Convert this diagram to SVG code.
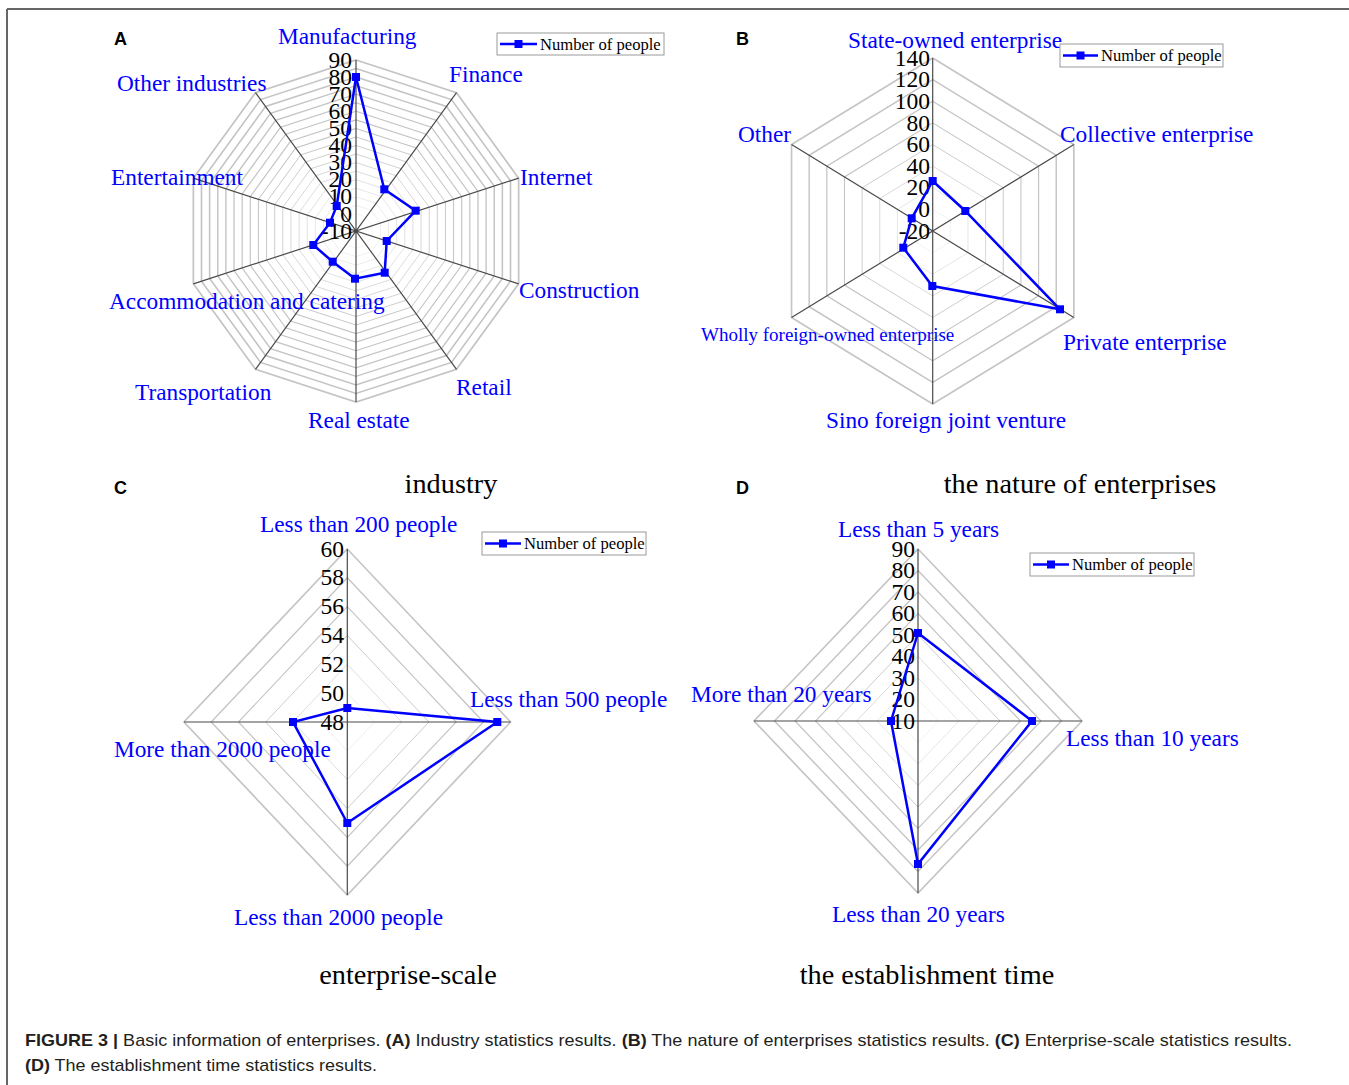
<svg xmlns="http://www.w3.org/2000/svg" xmlns:xlink="http://www.w3.org/1999/xlink" width="1349" height="1085" viewBox="0 0 1349 1085">
<style>
.ring{fill:none;stroke:#c4c4c4;stroke-width:1;vector-effect:non-scaling-stroke}
.axis{fill:none;stroke:#4a4a4a;stroke-width:1.2;vector-effect:non-scaling-stroke}
.data{fill:none;stroke:#0000ff;stroke-width:2.5;stroke-linejoin:miter}
.mk{fill:#0000ff}
.tick{font-family:"Liberation Serif",serif;font-size:23.5px;fill:#000;text-anchor:end}
.cat{font-family:"Liberation Serif",serif;font-size:23.3px;fill:#0000ff}
.title{font-family:"Liberation Serif",serif;font-size:28.3px;fill:#000;text-anchor:middle}
.leg{fill:#fff;stroke:#9a9a9a;stroke-width:1}
.legt{font-family:"Liberation Serif",serif;font-size:16.6px;fill:#000}
.legl{stroke:#0000ff;stroke-width:2.5}
.panel{font-family:"Liberation Sans",Arial,sans-serif;font-size:18px;font-weight:bold;fill:#000}
.cap{font-family:"Liberation Sans",Arial,sans-serif;font-size:17px;fill:#231f20}
</style>
<defs>
<polygon id="deca" points="0,-100 58.78,-80.9 95.11,-30.9 95.11,30.9 58.78,80.9 0,100 -58.78,80.9 -95.11,30.9 -95.11,-30.9 -58.78,-80.9"/>
<polygon id="hexa" points="0,-100 86.6,-50 86.6,50 0,100 -86.6,50 -86.6,-50"/>
<polygon id="diam" points="0,-100 100,0 0,100 -100,0"/>
<rect id="sq" x="-4" y="-4" width="8" height="8"/>
</defs>

<g id="frame">
<line x1="7" y1="9" x2="1349" y2="9" stroke="#666" stroke-width="2"/>
<line x1="7" y1="9" x2="7" y2="1085" stroke="#666" stroke-width="2"/>
</g>

<!-- Panel A -->
<g id="panelA">
<text class="panel" x="114" y="45">A</text>
<g transform="translate(356,231)">
<use href="#deca" class="ring" transform="scale(0.0855)"/>
<use href="#deca" class="ring" transform="scale(0.171)"/>
<use href="#deca" class="ring" transform="scale(0.2565)"/>
<use href="#deca" class="ring" transform="scale(0.342)"/>
<use href="#deca" class="ring" transform="scale(0.4275)"/>
<use href="#deca" class="ring" transform="scale(0.513)"/>
<use href="#deca" class="ring" transform="scale(0.5985)"/>
<use href="#deca" class="ring" transform="scale(0.684)"/>
<use href="#deca" class="ring" transform="scale(0.7695)"/>
<use href="#deca" class="ring" transform="scale(0.855)"/>
<use href="#deca" class="ring" transform="scale(0.9405)"/>
<use href="#deca" class="ring" transform="scale(1.026)"/>
<use href="#deca" class="ring" transform="scale(1.1115)"/>
<use href="#deca" class="ring" transform="scale(1.197)"/>
<use href="#deca" class="ring" transform="scale(1.2825)"/>
<use href="#deca" class="ring" transform="scale(1.368)"/>
<use href="#deca" class="ring" transform="scale(1.4535)"/>
<use href="#deca" class="ring" transform="scale(1.539)"/>
<use href="#deca" class="ring" transform="scale(1.6245)"/>
<use href="#deca" class="ring" transform="scale(1.71)"/>
<path class="axis" transform="scale(1.71)" d="M0,-100L0,100M58.78,-80.9L-58.78,80.9M95.11,-30.9L-95.11,30.9M95.11,30.9L-95.11,-30.9M58.78,80.9L-58.78,-80.9"/>
</g>
<g>
<text class="tick" x="352" y="67.6">90</text>
<text class="tick" x="352" y="84.7">80</text>
<text class="tick" x="352" y="101.8">70</text>
<text class="tick" x="352" y="118.9">60</text>
<text class="tick" x="352" y="136">50</text>
<text class="tick" x="352" y="153.1">40</text>
<text class="tick" x="352" y="170.2">30</text>
<text class="tick" x="352" y="187.3">20</text>
<text class="tick" x="352" y="204.4">10</text>
<text class="tick" x="352" y="221.5">0</text>
<text class="tick" x="352" y="238.6">-10</text>
</g>
<polygon class="data" points="356,77 384.3,189.3 415.7,210.7 386.7,241 384.7,272.7 355,278.7 332.7,261.7 313.3,245 330,222.7 336.7,206"/>
<g>
<use href="#sq" class="mk" x="356" y="77"/>
<use href="#sq" class="mk" x="384.3" y="189.3"/>
<use href="#sq" class="mk" x="415.7" y="210.7"/>
<use href="#sq" class="mk" x="386.7" y="241"/>
<use href="#sq" class="mk" x="384.7" y="272.7"/>
<use href="#sq" class="mk" x="355" y="278.7"/>
<use href="#sq" class="mk" x="332.7" y="261.7"/>
<use href="#sq" class="mk" x="313.3" y="245"/>
<use href="#sq" class="mk" x="330" y="222.7"/>
<use href="#sq" class="mk" x="336.7" y="206"/>
</g>
<text class="cat" x="278" y="44">Manufacturing</text>
<text class="cat" x="449" y="82">Finance</text>
<text class="cat" x="520" y="185">Internet</text>
<text class="cat" x="519" y="298">Construction</text>
<text class="cat" x="456" y="395">Retail</text>
<text class="cat" x="308" y="428">Real estate</text>
<text class="cat" x="135" y="400">Transportation</text>
<text class="cat" x="109" y="309">Accommodation and catering</text>
<text class="cat" x="111" y="185">Entertainment</text>
<text class="cat" x="117" y="91">Other industries</text>
<g>
<rect class="leg" x="497" y="33" width="167" height="22"/>
<line class="legl" x1="500" y1="44" x2="537" y2="44"/>
<use href="#sq" class="mk" x="518.5" y="44"/>
<text class="legt" x="540" y="50">Number of people</text>
</g>
<text class="title" x="451" y="493">industry</text>
</g>

<!-- Panel B -->
<g id="panelB">
<text class="panel" x="736" y="45">B</text>
<g transform="translate(932.7,231)">
<use href="#hexa" class="ring" transform="scale(0.2038,0.2163)"/>
<use href="#hexa" class="ring" transform="scale(0.4075,0.4325)"/>
<use href="#hexa" class="ring" transform="scale(0.6113,0.6488)"/>
<use href="#hexa" class="ring" transform="scale(0.815,0.865)"/>
<use href="#hexa" class="ring" transform="scale(1.0188,1.0813)"/>
<use href="#hexa" class="ring" transform="scale(1.2225,1.2975)"/>
<use href="#hexa" class="ring" transform="scale(1.4263,1.5138)"/>
<use href="#hexa" class="ring" transform="scale(1.63,1.73)"/>
<path class="axis" transform="scale(1.63,1.73)" d="M0,-100L0,100M86.6,-50L-86.6,50M86.6,50L-86.6,-50"/>
</g>
<g>
<text class="tick" x="930" y="65.6">140</text>
<text class="tick" x="930" y="87.2">120</text>
<text class="tick" x="930" y="108.9">100</text>
<text class="tick" x="930" y="130.5">80</text>
<text class="tick" x="930" y="152.1">60</text>
<text class="tick" x="930" y="173.7">40</text>
<text class="tick" x="930" y="195.4">20</text>
<text class="tick" x="930" y="217">0</text>
<text class="tick" x="930" y="238.6">-20</text>
</g>
<polygon class="data" points="932.7,181 965.3,211 1060,309.3 932.3,286 903.3,247.7 911.7,218.3"/>
<g>
<use href="#sq" class="mk" x="932.7" y="181"/>
<use href="#sq" class="mk" x="965.3" y="211"/>
<use href="#sq" class="mk" x="1060" y="309.3"/>
<use href="#sq" class="mk" x="932.3" y="286"/>
<use href="#sq" class="mk" x="903.3" y="247.7"/>
<use href="#sq" class="mk" x="911.7" y="218.3"/>
</g>
<text class="cat" x="848" y="48">State-owned enterprise</text>
<text class="cat" x="1060" y="142">Collective enterprise</text>
<text class="cat" x="1063" y="350">Private enterprise</text>
<text class="cat" x="826" y="428">Sino foreign joint venture</text>
<text class="cat" x="701" y="341" style="font-size:19px">Wholly foreign-owned enterprise</text>
<text class="cat" x="738" y="142">Other</text>
<g>
<rect class="leg" x="1060" y="44" width="163" height="23"/>
<line class="legl" x1="1063" y1="55.5" x2="1098" y2="55.5"/>
<use href="#sq" class="mk" x="1080.5" y="55.5"/>
<text class="legt" x="1101" y="61">Number of people</text>
</g>
<text class="title" x="1080" y="493">the nature of enterprises</text>
</g>

<!-- Panel C -->
<g id="panelC">
<text class="panel" x="114" y="494">C</text>
<g transform="translate(347.3,722)">
<use href="#diam" class="ring" transform="scale(0.2722,0.2883)"/>
<use href="#diam" class="ring" transform="scale(0.5443,0.5767)"/>
<use href="#diam" class="ring" transform="scale(0.8165,0.865)"/>
<use href="#diam" class="ring" transform="scale(1.0887,1.1533)"/>
<use href="#diam" class="ring" transform="scale(1.3608,1.4417)"/>
<use href="#diam" class="ring" transform="scale(1.633,1.73)"/>
<path class="axis" transform="scale(1.633,1.73)" d="M0,-100L0,100M-100,0L100,0"/>
</g>
<g>
<text class="tick" x="344" y="556.6">60</text>
<text class="tick" x="344" y="585.4">58</text>
<text class="tick" x="344" y="614.3">56</text>
<text class="tick" x="344" y="643.1">54</text>
<text class="tick" x="344" y="671.9">52</text>
<text class="tick" x="344" y="700.8">50</text>
<text class="tick" x="344" y="729.6">48</text>
</g>
<polygon class="data" points="347.3,708 497.3,722 347.3,823 293,722"/>
<g>
<use href="#sq" class="mk" x="347.3" y="708"/>
<use href="#sq" class="mk" x="497.3" y="722"/>
<use href="#sq" class="mk" x="347.3" y="823"/>
<use href="#sq" class="mk" x="293" y="722"/>
</g>
<text class="cat" x="260" y="532">Less than 200 people</text>
<text class="cat" x="470" y="707">Less than 500 people</text>
<text class="cat" x="234" y="925">Less than 2000 people</text>
<text class="cat" x="114" y="757">More than 2000 people</text>
<g>
<rect class="leg" x="482" y="532" width="164" height="23"/>
<line class="legl" x1="485" y1="543.5" x2="521" y2="543.5"/>
<use href="#sq" class="mk" x="503" y="543.5"/>
<text class="legt" x="524" y="549">Number of people</text>
</g>
<text class="title" x="408" y="984">enterprise-scale</text>
</g>

<!-- Panel D -->
<g id="panelD">
<text class="panel" x="736" y="494">D</text>
<g transform="translate(918,721)">
<use href="#diam" class="ring" transform="scale(0.205,0.215)"/>
<use href="#diam" class="ring" transform="scale(0.41,0.43)"/>
<use href="#diam" class="ring" transform="scale(0.615,0.645)"/>
<use href="#diam" class="ring" transform="scale(0.82,0.86)"/>
<use href="#diam" class="ring" transform="scale(1.025,1.075)"/>
<use href="#diam" class="ring" transform="scale(1.23,1.29)"/>
<use href="#diam" class="ring" transform="scale(1.435,1.505)"/>
<use href="#diam" class="ring" transform="scale(1.64,1.72)"/>
<path class="axis" transform="scale(1.64,1.72)" d="M0,-100L0,100M-100,0L100,0"/>
</g>
<g>
<text class="tick" x="915" y="556.6">90</text>
<text class="tick" x="915" y="578.1">80</text>
<text class="tick" x="915" y="599.6">70</text>
<text class="tick" x="915" y="621.1">60</text>
<text class="tick" x="915" y="642.6">50</text>
<text class="tick" x="915" y="664.1">40</text>
<text class="tick" x="915" y="685.6">30</text>
<text class="tick" x="915" y="707.1">20</text>
<text class="tick" x="915" y="728.6">10</text>
</g>
<polygon class="data" points="918,633 1032,721 918,864 891,721"/>
<g>
<use href="#sq" class="mk" x="918" y="633"/>
<use href="#sq" class="mk" x="1032" y="721"/>
<use href="#sq" class="mk" x="918" y="864"/>
<use href="#sq" class="mk" x="891" y="721"/>
</g>
<text class="cat" x="838" y="537">Less than 5 years</text>
<text class="cat" x="1066" y="746">Less than 10 years</text>
<text class="cat" x="832" y="922">Less than 20 years</text>
<text class="cat" x="691" y="702">More than 20 years</text>
<g>
<rect class="leg" x="1030" y="553" width="164" height="23"/>
<line class="legl" x1="1033" y1="564.5" x2="1069" y2="564.5"/>
<use href="#sq" class="mk" x="1051" y="564.5"/>
<text class="legt" x="1072" y="570">Number of people</text>
</g>
<text class="title" x="927" y="984">the establishment time</text>
</g>

<g id="caption">
<text class="cap" x="25" y="1046" textLength="1267" lengthAdjust="spacingAndGlyphs"><tspan font-weight="bold">FIGURE 3 |</tspan> Basic information of enterprises. <tspan font-weight="bold">(A)</tspan> Industry statistics results. <tspan font-weight="bold">(B)</tspan> The nature of enterprises statistics results. <tspan font-weight="bold">(C)</tspan> Enterprise-scale statistics results.</text>
<text class="cap" x="25" y="1071" textLength="352" lengthAdjust="spacingAndGlyphs"><tspan font-weight="bold">(D)</tspan> The establishment time statistics results.</text>
</g>
</svg>
